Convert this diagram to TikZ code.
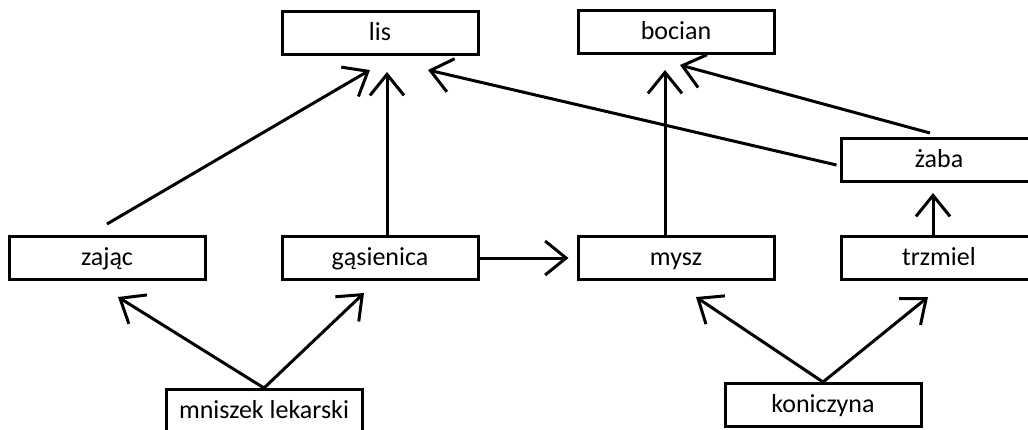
\documentclass[tikz,border=0pt]{standalone}
\usepackage{fontspec}
\setmainfont{Carlito}
\usetikzlibrary{arrows.meta,positioning}

\tikzset{
  organism/.style={draw,line width=3pt,minimum width=196pt,minimum height=43pt,
    inner sep=0pt,text height=19pt,text depth=4pt,font=\fontsize{26}{30}\selectfont},
  eats/.style={line width=3pt,-{Straight Barb[length=21pt,width=34pt]}}
}

\begin{document}
\begin{tikzpicture}[x=1pt,y=1pt,node distance=100pt,on grid]
  \clip (0,0) rectangle (1028,-429);
  \path
  node[organism] (gasienica) at (380,-258) {gąsienica}
  node[organism] (zajac) [left=273pt of gasienica] {zając}
  node[organism] (mysz) [right=296pt of gasienica] {mysz}
  node[organism] (trzmiel) [right=263pt of mysz] {trzmiel}
  node[organism] (zaba) [above=98pt of trzmiel] {żaba}
  node[organism] (lis) [above=225pt of gasienica] {lis}
  node[organism] (bocian) [above=226pt of mysz] {bocian}
  node[organism] (mniszek) [below left=153pt and 116pt of gasienica] {mniszek lekarski}
  node[organism] (koniczyna) [below right=147pt and 147pt of mysz] {koniczyna}
  ;
  \path[eats]
  ([yshift=11pt]zajac.north) edge ([xshift=-10pt,yshift=-14pt]lis.south)
  ([xshift=7pt]gasienica.north) edge ([xshift=7pt,yshift=-16pt]lis.south)
  ([xshift=-3pt,yshift=-5pt]zaba.west) edge ([xshift=48pt,yshift=-14pt]lis.south)

  ([xshift=-11pt]mysz.north) edge ([xshift=-11pt,yshift=-15pt]bocian.south)
  ([xshift=-9pt,yshift=4pt]zaba.north) edge ([xshift=4pt,yshift=-10pt]bocian.south)
  ([xshift=-6pt]trzmiel.north) edge ([xshift=-6pt,yshift=-10pt]zaba.south)

  (gasienica.east) edge[shorten >=8pt] (mysz.west)

  (mniszek.north) edge ([xshift=11pt,yshift=-16pt]zajac.south)
  (mniszek.north) edge ([xshift=-16pt,yshift=-12pt]gasienica.south)
  (koniczyna.north) edge ([xshift=20pt,yshift=-16pt]mysz.south)
  (koniczyna.north) edge ([xshift=-11pt,yshift=-16pt]trzmiel.south)
  ;
\end{tikzpicture}
\end{document}
